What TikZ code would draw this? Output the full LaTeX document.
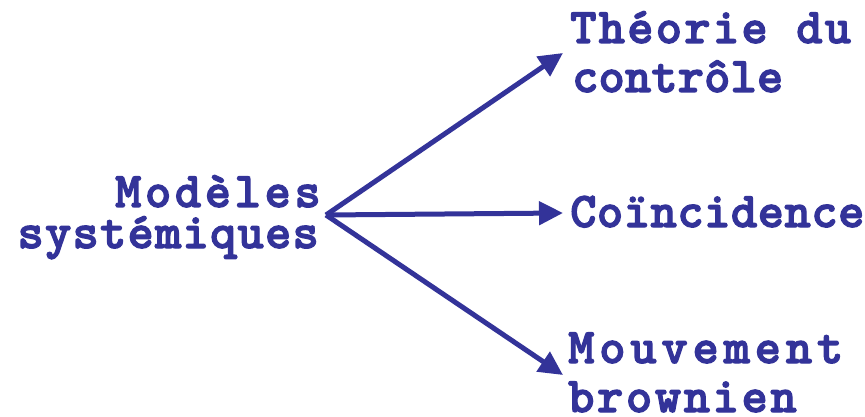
\documentclass[tikz,border=0pt]{standalone}
\usepackage{fontspec}
\usetikzlibrary{arrows.meta}
% heavy slab-serif typewriter face for all labels
\newfontfamily\lblfont{lmmonolt10-bold.otf}[FakeBold=2.5]
\definecolor{ink}{HTML}{333399}
\newcommand{\lblsp}[1]{\lblfont\fontsize{50}{52}\selectfont\addfontfeatures{LetterSpace=#1}}
\tikzset{
  lbl/.style={inner sep=0pt, text=ink, font=\lblsp{#1}},
  lbl/.default=0,
  branch/.style={draw=ink, line width=5pt, -{Triangle[length=24pt,width=23pt]}}
}
\begin{document}
\begin{tikzpicture}[x=1pt,y=-1pt]
  \useasboundingbox (0,0) rectangle (865,417);
  % left label, right-aligned
  \node[lbl=7.3, anchor=base east] (m1) at (321,207) {Modèles};
  \node[lbl=2.5, anchor=base east] (m2) at (319,248) {systémiques};
  % right labels
  \node[lbl=4.6, anchor=base west] (t1) at (570,43) {Théorie du};
  \node[lbl=0.3, anchor=base west] (t2) at (572,92) {contrôle};
  \node[lbl=1.1, anchor=base west] (c1) at (570,227) {Coïncidence};
  \node[lbl=9.7, anchor=base west] (b1) at (568,363) {Mouvement};
  \node[lbl=5.3, anchor=base west] (b2) at (568,412) {brownien};
  % branching arrows
  \coordinate (hub) at (326,215);
  \coordinate (top) at (563,53);
  \coordinate (mid) at (563,213);
  \coordinate (bot) at (563,375);
  \draw[branch] (hub) -- (top);
  \draw[branch] (hub) -- (mid);
  \draw[branch] (hub) -- (bot);
\end{tikzpicture}
\end{document}
